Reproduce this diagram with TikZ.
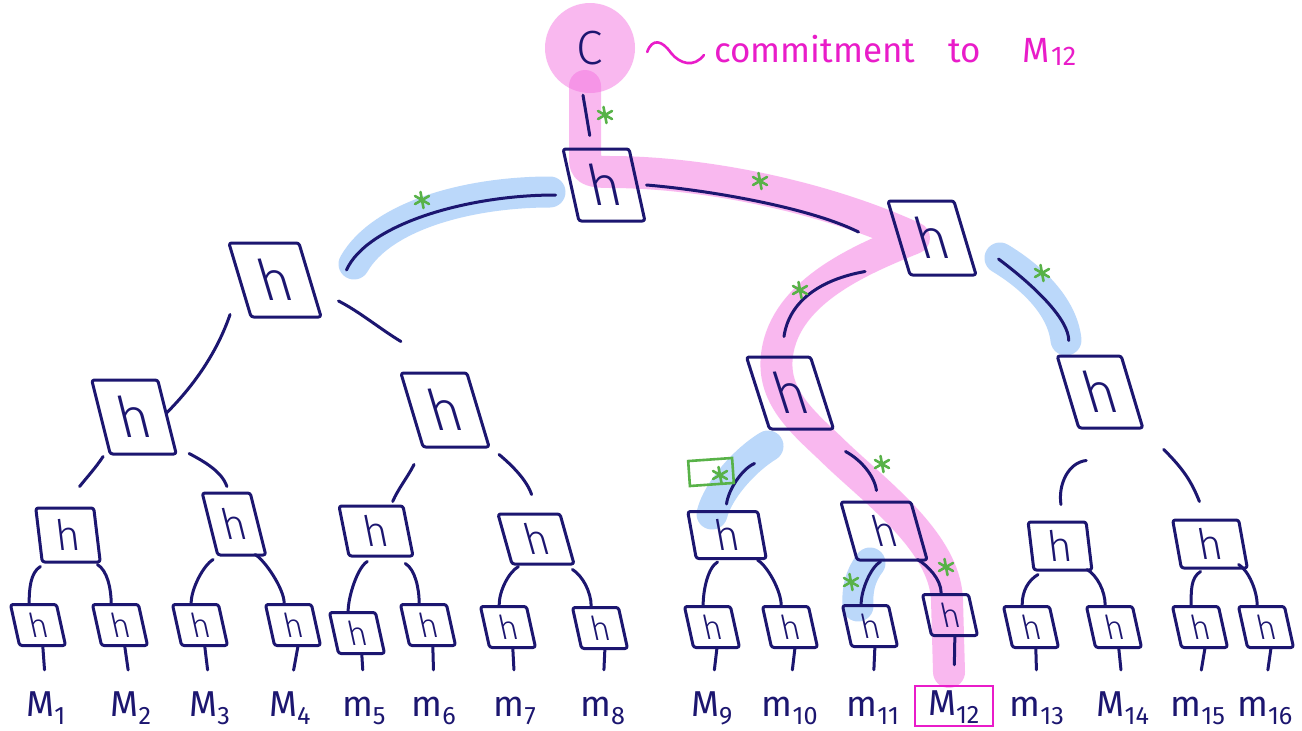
\documentclass[tikz,border=0pt]{standalone}
\usepackage{fontspec}
\setmainfont{Fira Sans}
\newfontfamily\penlight{Fira Sans Light}
\usetikzlibrary{calc}

\definecolor{ink}{RGB}{28,22,112}
\definecolor{hlpink}{RGB}{245,115,225}
\definecolor{hlblue}{RGB}{187,216,250}
\definecolor{tick}{RGB}{88,178,72}
\definecolor{mag}{RGB}{233,28,201}

\tikzset{
  inkline/.style={draw=ink, line width=3pt, line cap=round, line join=round},
  hashbox/.style n args={3}{inkline, rounded corners=2.5pt, inner sep=0pt,
      text=ink, minimum width=#1, minimum height=#2, xslant=#3},
  hup/.style={font=\penlight\fontsize{56}{56}\selectfont},
  hmid/.style={font=\penlight\fontsize{42}{42}\selectfont},
  hleaf/.style={font=\penlight\fontsize{33}{33}\selectfont},
  pinkpath/.style={draw=hlpink, draw opacity=0.5, line width=32pt, line cap=round, line join=round},
  bluepath/.style={draw=hlblue, line width=31pt, line cap=round, line join=round},
  msg/.style={inner sep=0pt, text height=26pt, text depth=5pt, anchor=base, text=ink,
      font=\fontsize{36}{36}\selectfont},
  tickmark/.pic={\draw[tick, line width=2.6pt, line cap=round]
      (-1.5,-8) -- (1.5,8) (-7,-4) -- (7,4) (-7,4) -- (7,-4);},
}

\begin{document}
\begin{tikzpicture}[x=1pt, y=-1pt]
\fill[white] (0,0) rectangle (1302,731);
\useasboundingbox (0,0) rectangle (1302,731);

% light-blue highlights on the sibling hashes
\draw[bluepath] (550,192) .. controls (470,192) and (382,215) .. (354,264);
\draw[bluepath] (1000,258) .. controls (1030,276) and (1062,305) .. (1066,340);
\draw[bluepath] (768,446) .. controls (745,460) and (718,490) .. (712,514);
\draw[bluepath] (870,563) .. controls (860,576) and (857,590) .. (858,606);

% commitment circle and the pink path down to the opened leaf
\node[circle, fill=hlpink, fill opacity=0.5, text opacity=1, minimum size=90pt, inner sep=0pt,
      text=ink, font=\penlight\fontsize{48}{48}\selectfont] (cc) at (590,48) {C};
\draw[pinkpath] (585,86) -- (585,160) .. controls (585,170) and (592,172) .. (610,172)
  .. controls (700,172) and (820,195) .. (914,238)
  .. controls (865,258) and (785,290) .. (777,355)
  .. controls (772,395) and (800,420) .. (830,448)
  .. controls (870,488) and (945,540) .. (947,600) -- (949,672);

% hash boxes
\node[hashbox={66pt}{72pt}{-0.22}, hup] (r) at (604,185) {h};
\node[hashbox={70pt}{74pt}{-0.3}, hup] (l2a) at (275,280) {h};
\node[hashbox={66pt}{74pt}{-0.3}, hup] (l2b) at (932,238) {h};
\node[hashbox={66pt}{74pt}{-0.25}, hup] (l3a) at (134,417) {h};
\node[hashbox={66pt}{74pt}{-0.3}, hup] (l3b) at (445,410) {h};
\node[hashbox={64pt}{72pt}{-0.32}, hup] (l3c) at (790,393) {h};
\node[hashbox={64pt}{72pt}{-0.3}, hup] (l3d) at (1100,392) {h};
\node[hashbox={58pt}{54pt}{-0.12}, hmid] (l4a) at (68,535) {h};
\node[hashbox={48pt}{62pt}{-0.25}, hmid] (l4b) at (234,524) {h};
\node[hashbox={64pt}{50pt}{-0.2}, hmid] (l4c) at (376,531) {h};
\node[hashbox={62pt}{50pt}{-0.28}, hmid] (l4d) at (536,539) {h};
\node[hashbox={70pt}{47pt}{-0.18}, hmid] (l4e) at (727,535) {h};
\node[hashbox={70pt}{58pt}{-0.28}, hmid] (l4f) at (884,531) {h};
\node[hashbox={58pt}{48pt}{-0.12}, hmid] (l4g) at (1060,546) {h};
\node[hashbox={66pt}{48pt}{-0.18}, hmid] (l4h) at (1210,544) {h};
\foreach \i/\x/\y in {1/38/625, 2/120/625, 3/200/625, 4/293/625, 5/357/633, 6/428/625,
    7/508/627, 8/600/628, 9/712/627, 10/790/627, 11/870/626, 12/950/615, 13/1031/627,
    14/1114/627, 15/1200/627, 16/1266/627}
  \node[hashbox={46pt}{41pt}{-0.22}, hleaf] (leaf\i) at (\x,\y) {h};

% messages
\foreach \i/\x/\c in {1/46/M, 2/131/M, 3/210/M, 4/290/M, 5/364/m, 6/434/m, 7/515/m, 8/603/m,
    9/712/M, 10/790/m, 11/873/m, 13/1037/m, 14/1123/M, 15/1198/m, 16/1265/m}
  \node[msg] (m\i) at (\x,716) {\c\textsubscript{\i}};
\node[msg, text depth=8pt, draw=mag, line width=2.5pt, minimum width=78pt, minimum height=40pt]
  (m12) at (954,715) {M\textsubscript{12}};

% tree edges
\draw[inkline] ($(cc.south)+(-7,2)$) -- ($(r.north)+(-6,-12)$);
\draw[inkline] ($(r.west)+(-14,10)$) .. controls +(-90,0) and +(20,-45) .. ($(l2a.east)+(35,-10)$);
\draw[inkline] ($(r.east)+(8,0)$) .. controls +(60,5) and +(-50,-25) .. ($(l2b.west)+(-39,-6)$);
\draw[inkline] ($(l2a.south west)+(-20,-4)$) .. controls +(-12,35) and +(30,-30) .. ($(l3a.east)+(-2,-4)$);
\draw[inkline] ($(l2a.east)+(27,21)$) .. controls +(20,10) and +(-20,-12) .. ($(l3b.north west)+(2,-30)$);
\draw[inkline] ($(l2b.south west)+(-44,-5)$) .. controls +(-45,8) and +(5,-35) .. ($(l3c.north)+(6,-19)$);
\draw[inkline] ($(l2b.east)+(32,21)$) .. controls +(40,30) and +(0,-20) .. ($(l3d.north)+(-20,-14)$);
\draw[inkline] ($(l3a.south west)+(-6,1)$) .. controls +(-8,12) and +(8,-10) .. ($(l4a.north)+(15,-20)$);
\draw[inkline] ($(l3a.south east)+(11,-2)$) .. controls +(15,8) and +(-5,-15) .. ($(l4b.north)+(1,-5)$);
\draw[inkline] ($(l3b.south west)+(-8,16)$) .. controls +(-6,12) and +(5,-12) .. ($(l4c.north)+(22,-3)$);
\draw[inkline] ($(l3b.south east)+(8,6)$) .. controls +(12,10) and +(-5,-15) .. ($(l4d.north)+(3,-18)$);
\draw[inkline] ($(l3c.south west)+(-14,33)$) .. controls +(-12,5) and +(2,-15) .. ($(l4e.north)+(4,-6)$);
\draw[inkline] ($(l3c.south east)+(10,21)$) .. controls +(15,8) and +(-2,-15) .. ($(l4f.north)+(1,-10)$);
\draw[inkline] ($(l3d.south)+(-25,31)$) .. controls +(-18,2) and +(-3,-20) .. ($(l4g.north)+(4,-16)$);
\draw[inkline] ($(l3d.south east)+(19,20)$) .. controls +(20,20) and +(-8,-20) .. ($(l4h.north)+(-6,-17)$);
\foreach \b/\p/\q/\lx/\ly/\rx/\ry in {
    l4a/1/2/-31/3/26/1, l4b/3/4/-29/3/13/-2, l4c/5/6/-14/4/24/6, l4d/7/8/-25/1/29/4,
    l4e/9/10/-14/2/26/0, l4f/11/12/-12/0/25/-2, l4g/13/14/-25/3/24/-2, l4h/15/16/-14/2/24/-5}{
  \draw[inkline] ($(\b.south)+(\lx,\ly)$) .. controls +(-10,6) and +(0,-14) .. ($(leaf\p.north)+(-4,0)$);
  \draw[inkline] ($(\b.south)+(\rx,\ry)$) .. controls +(10,6) and +(0,-14) .. ($(leaf\q.north)+(-4,0)$);
}
\foreach \i in {1,...,16}
  \draw[inkline, shorten >=20pt] (leaf\i.south) -- (m\i.north);

% green marks on the authentication path
\foreach \x/\y in {605/115, 760/181, 422/200, 800/290, 1042/273, 882/464, 720/475, 851/582, 946/567}
  \pic at (\x,\y) {tickmark};
\node[draw=tick, line width=2.6pt, minimum width=44pt, minimum height=25pt, rotate=4] (checked) at (711,472) {};

% annotation
\node[anchor=base west, inner sep=0pt, text=mag, font=\fontsize{35}{35}\selectfont] (note) at (714,62)
  {commitment\hspace{33pt}to\hspace{42pt}M\kern1pt\raisebox{-3pt}{\fontsize{27}{27}\selectfont 12}};
\draw[draw=mag, line width=2.6pt, line cap=round] ($(cc.east)+(12,4)$)
  .. controls +(5,-14) and +(-9,-13) .. (671,53)
  .. controls +(9,11) and +(-10,13) .. ($(note.base west)+(-10,-7)$);
\end{tikzpicture}
\end{document}
